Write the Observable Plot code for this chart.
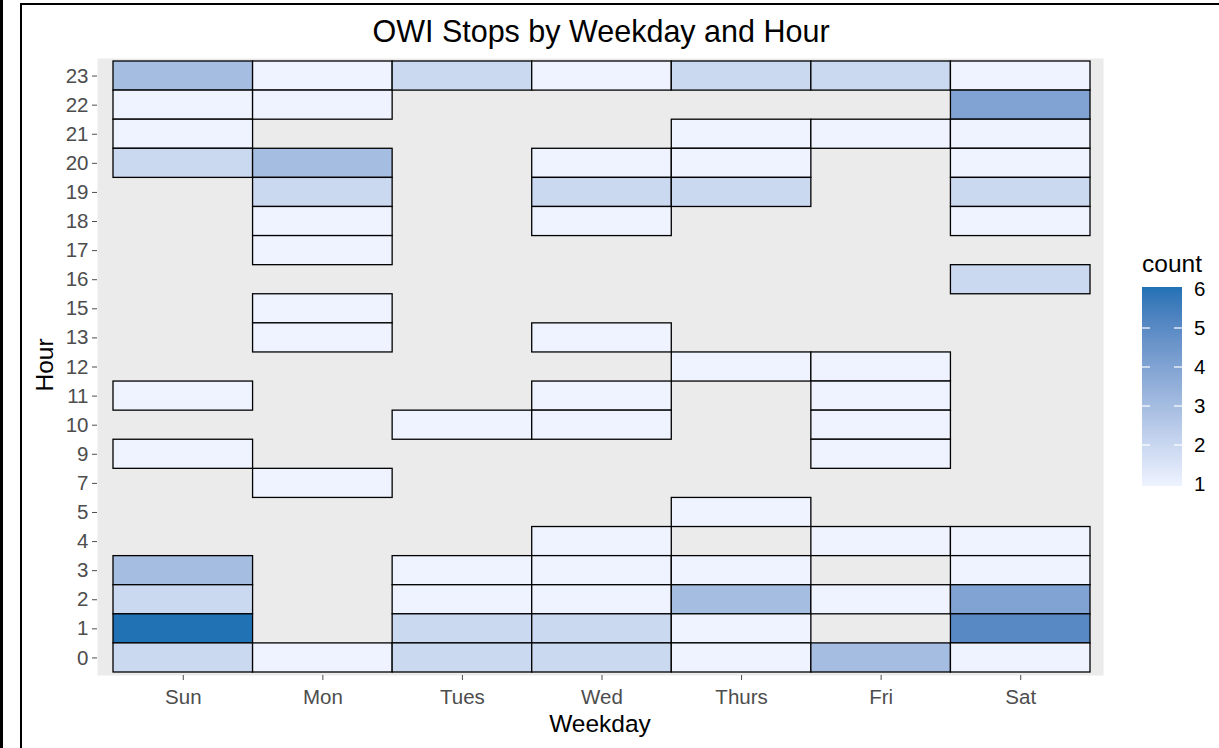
<!DOCTYPE html>
<html>
<head>
<meta charset="utf-8">
<script src="https://cdn.jsdelivr.net/npm/d3@7"></script>
<script src="https://cdn.jsdelivr.net/npm/@observablehq/plot@0.6"></script>
<style>
  html, body { margin: 0; padding: 0; background: #fff; }
  #chart { width: 1219px; height: 748px; position: relative; }
</style>
</head>
<body>
<div id="chart"></div>
<script>
// ---- data ----
const weekdays = ["Sun", "Mon", "Tues", "Wed", "Thurs", "Fri", "Sat"];
const hourLabels = ["23","22","21","20","19","18","17","16","15","13","12","11","10","9","7","5","4","3","2","1","0"];
// [hour, count] per weekday
const sunCounts   = [[23,3],[22,1],[21,1],[20,2],[11,1],[9,1],[3,3],[2,2],[1,6],[0,2]];
const monCounts   = [[23,1],[22,1],[20,3],[19,2],[18,1],[17,1],[15,1],[13,1],[7,1],[0,1]];
const tuesCounts  = [[23,2],[10,1],[3,1],[2,1],[1,2],[0,2]];
const wedCounts   = [[23,1],[20,1],[19,2],[18,1],[13,1],[11,1],[10,1],[4,1],[3,1],[2,1],[1,2],[0,2]];
const thursCounts = [[23,2],[21,1],[20,1],[19,2],[12,1],[5,1],[3,1],[2,3],[1,1],[0,1]];
const friCounts   = [[23,2],[21,1],[12,1],[11,1],[10,1],[9,1],[4,1],[2,1],[0,3]];
const satCounts   = [[23,1],[22,4],[21,1],[20,1],[19,2],[18,1],[16,2],[4,1],[3,1],[2,4],[1,5],[0,1]];
const legendTicks = [1, 2, 3, 4, 5, 6];

const perDay = [sunCounts, monCounts, tuesCounts, wedCounts, thursCounts, friCounts, satCounts];
const data = [];
perDay.forEach((rows, i) => rows.forEach(([h, c]) => data.push({day: weekdays[i], hour: String(h), count: c})));

const W = 1219, H = 748;
const font = "'Liberation Sans', Arial, Helvetica, sans-serif";
const colorOpts = {type: "linear", domain: [1, 6], range: ["#EEF3FF", "#2171B5"], interpolate: "lab"};

const plot = Plot.plot({
  width: W, height: H,
  marginLeft: 97, marginRight: 116, marginTop: 58, marginBottom: 73,
  style: {fontFamily: font, background: "#fff", color: "#4D4D4D", overflow: "visible"},
  x: {domain: weekdays, padding: 0, round: false, insetLeft: 16, insetRight: 13, label: null},
  y: {domain: hourLabels, padding: 0, round: false, insetTop: 3, insetBottom: 3, label: null},
  color: colorOpts,
  marks: [
    Plot.frame({fill: "#EBEBEB", stroke: "none"}),
    Plot.cell(data, {x: "day", y: "hour", fill: "count", stroke: "black", strokeWidth: 1.3}),
    Plot.axisX({tickSize: 5, tickPadding: 9, fontSize: 20.5, color: "#4D4D4D", label: null}),
    Plot.axisY({tickSize: 5, tickPadding: 4, fontSize: 20.5, color: "#4D4D4D", label: null})
  ]
});
document.getElementById("chart").appendChild(plot);

const svg = d3.select(plot);

// outer frame decorations
svg.append("rect").attr("x", 0).attr("y", 0).attr("width", 3).attr("height", H).attr("fill", "#000");
svg.append("rect").attr("x", 20).attr("y", 3).attr("width", 2).attr("height", H).attr("fill", "#000");
svg.append("rect").attr("x", 20).attr("y", 3).attr("width", W - 20).attr("height", 2).attr("fill", "#000");

// title
svg.append("text").attr("x", 601).attr("y", 42).attr("text-anchor", "middle")
  .attr("font-family", font).attr("font-size", 30.5).attr("fill", "#000")
  .text("OWI Stops by Weekday and Hour");
// axis titles
svg.append("text").attr("x", 600).attr("y", 732).attr("text-anchor", "middle")
  .attr("font-family", font).attr("font-size", 24.5).attr("fill", "#000").text("Weekday");
svg.append("text").attr("transform", "translate(53,365) rotate(-90)").attr("text-anchor", "middle")
  .attr("font-family", font).attr("font-size", 24.5).attr("fill", "#000").text("Hour");

// legend (colorbar)
const cs = plot.scale("color");
const colorScale = Plot.scale({color: cs});
const lx = 1142, lw = 40, ly0 = 484, ly1 = 289; // value 1 -> ly0, 6 -> ly1
const ly = d3.scaleLinear().domain([1, 6]).range([ly0, ly1]);
const defs = svg.append("defs");
const grad = defs.append("linearGradient").attr("id", "cbar").attr("x1", 0).attr("y1", 1).attr("x2", 0).attr("y2", 0);
d3.range(0, 21).forEach(i => {
  const v = 1 + i * 5 / 20;
  grad.append("stop").attr("offset", (i / 20)).attr("stop-color", colorScale.apply(v));
});
svg.append("text").attr("x", lx).attr("y", 272).attr("text-anchor", "start").attr("font-family", font)
  .attr("font-size", 24.5).attr("fill", "#000").text("count");
svg.append("rect").attr("x", lx).attr("y", ly1 - 2).attr("width", lw).attr("height", ly0 - ly1 + 4)
  .attr("fill", "url(#cbar)");
legendTicks.forEach(v => {
  const y = ly(v);
  if (v > 1 && v < 6) {
    svg.append("line").attr("x1", lx).attr("x2", lx + 8).attr("y1", y).attr("y2", y).attr("stroke", "#fff").attr("stroke-width", 1.2);
    svg.append("line").attr("x1", lx + lw - 8).attr("x2", lx + lw).attr("y1", y).attr("y2", y).attr("stroke", "#fff").attr("stroke-width", 1.2);
  }
  svg.append("text").attr("x", lx + 52).attr("y", y).attr("dy", "0.35em").attr("text-anchor", "start")
    .attr("font-family", font).attr("font-size", 20.5).attr("fill", "#000").text(String(v));
});
</script>
</body>
</html>
